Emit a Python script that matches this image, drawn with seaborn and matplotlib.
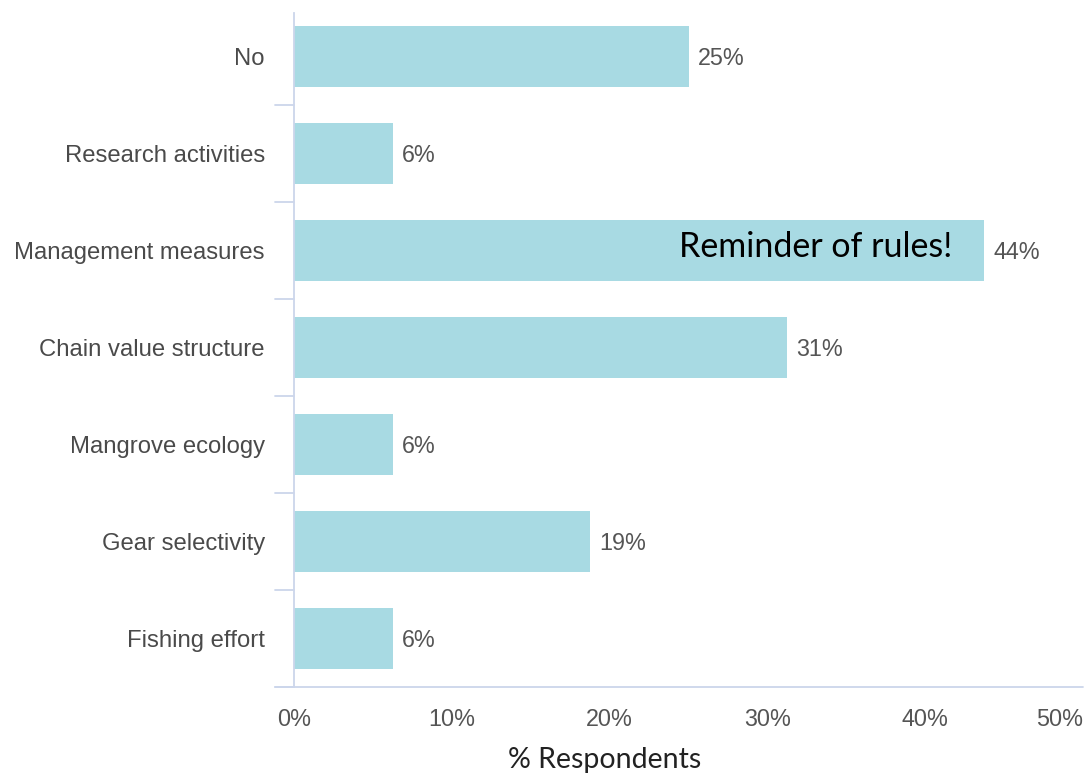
import matplotlib
matplotlib.use("Agg")
import matplotlib.pyplot as plt
import seaborn as sns
import pandas as pd

categories = ["No", "Research activities", "Management measures",
              "Chain value structure", "Mangrove ecology",
              "Gear selectivity", "Fishing effort"]
percent = [25.0, 6.25, 43.75, 31.25, 6.25, 18.75, 6.25]
x_ticks = [0, 10, 20, 30, 40, 50]
x_tick_labels = ["0%", "10%", "20%", "30%", "40%", "50%"]
annotation = "Reminder of rules!"
annotated_category = "Management measures"
x_title = "% Respondents"

df = pd.DataFrame({"category": categories, "percent": percent})

sns.set_style("white")
plt.rcParams["font.family"] = ["Liberation Sans", "DejaVu Sans"]

W, H = 1086, 773
fig = plt.figure(figsize=(W / 100, H / 100), dpi=100)
ax = fig.add_axes([294 / W, (H - 687) / H, (1083 - 294) / W, (687 - 8) / H])

bar_color = "#a8dae3"
axis_color = "#ccd6eb"
label_font = 16.8

sns.barplot(data=df, y="category", x="percent", orient="h", order=categories,
            color=bar_color, saturation=1, width=0.62, ax=ax, edgecolor="none")

ax.set_xlim(0, 50)
ax.set_ylim(len(categories) - 0.5, -0.5)
ax.set_xticks(x_ticks)
ax.set_xticklabels(x_tick_labels, fontsize=label_font, color="#555555")
ax.get_xticklabels()[-1].set_horizontalalignment("right")
ax.set_yticks(range(len(categories)))
ax.set_yticklabels(categories, fontsize=17.2, color="#4a4a4a")
ax.tick_params(axis="y", length=0, pad=21)
ax.tick_params(axis="x", length=10, width=1.3, color=axis_color, pad=5)

# Category boundary ticks on the left of the y axis
for b in range(1, len(categories) + 1):
    yb = b - 0.5
    ax.plot([-0.024, 0], [yb, yb], transform=ax.get_yaxis_transform(),
            color=axis_color, lw=1.3, clip_on=False)

for side in ["top", "right"]:
    ax.spines[side].set_visible(False)
ax.spines["left"].set_color(axis_color)
ax.spines["left"].set_linewidth(1.3)
ax.spines["left"].set_bounds(len(categories) - 0.5, -0.45)
ax.spines["bottom"].set_visible(False)
ax.plot([-0.024, 1], [0, 0], transform=ax.transAxes, color=axis_color,
        lw=1.3, clip_on=False)

for i, v in enumerate(percent):
    ax.text(v + 0.6, i + 0.02, f"{v:.0f}%", va="center", ha="left",
            fontsize=label_font, color="#555555")

idx = categories.index(annotated_category)
ax.text(percent[idx] - 2.0, idx - 0.04, annotation, va="center", ha="right",
        fontsize=24.5, color="black", family=["Lato", "DejaVu Sans"])

ax.set_xlabel("")
ax.set_ylabel("")
fig.text(605 / W, 5 / H, x_title, ha="center", va="baseline",
         fontsize=20.5, color="#222222", family=["Lato", "DejaVu Sans"])

fig.savefig("out.png", dpi=100)
